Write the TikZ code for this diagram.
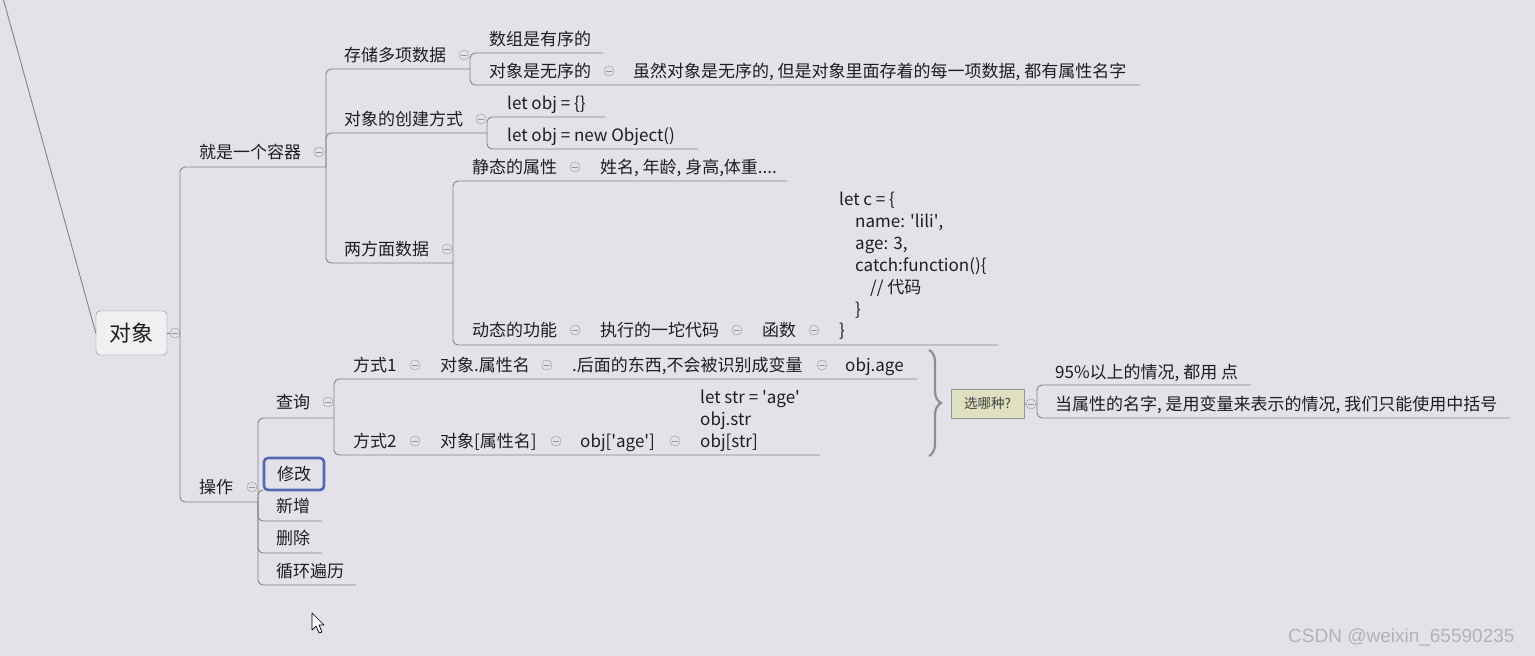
\documentclass[tikz,border=0pt]{standalone}
\usepackage{fontspec}
\setmainfont{Noto Sans CJK SC}
\newfontfamily\wmfont{Liberation Sans}
\usetikzlibrary{decorations.pathreplacing}

\definecolor{bgc}{RGB}{226,226,232}
\definecolor{txtc}{RGB}{30,30,32}
\definecolor{linec}{RGB}{130,130,134}
\definecolor{foldc}{RGB}{150,150,154}
\definecolor{rootfill}{RGB}{240,240,242}
\definecolor{pickfill}{RGB}{222,224,192}
\definecolor{hlc}{RGB}{88,102,182}
\definecolor{markc}{RGB}{178,178,184}
\newcommand{\apos}{\textquotesingle}

\begin{document}
\begin{tikzpicture}[
    x=1pt, y=-1pt,
    topic/.style={anchor=west, inner sep=0pt, text height=14pt, text depth=1.5pt,
      text=txtc, font=\fontsize{17}{20}\selectfont},
    fold/.style={circle, draw=foldc, inner sep=0pt, minimum size=10pt,
      path picture={\draw[foldc] ([xshift=-2.6pt]path picture bounding box.center)
        -- ([xshift=2.6pt]path picture bounding box.center);}},
    branch/.style={draw=linec, line width=0.9pt, rounded corners=5pt},
    rootbox/.style={draw=linec, fill=rootfill, rounded corners=4pt, inner sep=0pt,
      minimum width=71pt, minimum height=44pt, text=txtc, font=\fontsize{22}{26}\selectfont},
    pickbox/.style={draw=foldc, fill=pickfill, inner sep=0pt, minimum width=73pt,
      minimum height=29pt, text=txtc!85, font=\fontsize{13.5}{16}\selectfont},
    hlbox/.style={draw=hlc, line width=2.6pt, rounded corners=4pt, fill=bgc, inner sep=0pt,
      minimum width=60pt, minimum height=32pt, text=txtc, font=\fontsize{17}{20}\selectfont}
  ]
  \useasboundingbox[fill=bgc] (0,0) rectangle (1535,656);

  % junctions and underline ends
  \coordinate (diag-top) at (3,-2);
  \coordinate (root-u) at (180,333);
  \coordinate (cont-u) at (326,167);
  \coordinate (store-u) at (470,69);
  \coordinate (arr-u) at (603,53);
  \coordinate (objun-u) at (1140,85);
  \coordinate (create-u) at (487,133);
  \coordinate (lit-u) at (605,117);
  \coordinate (ctor-u) at (698,149);
  \coordinate (two-u) at (453,263);
  \coordinate (stat-u) at (787,181);
  \coordinate (dyn-u) at (998,345);
  \coordinate (op-u) at (258,502);
  \coordinate (q-u) at (334,418);
  \coordinate (w1-u) at (917,379);
  \coordinate (w2-u) at (820,455);
  \coordinate (add-u) at (322,521);
  \coordinate (del-u) at (322,553);
  \coordinate (loop-u) at (356,585);
  \coordinate (pick-u) at (1037,404);
  \coordinate (p1-u) at (1251,385);
  \coordinate (p2-u) at (1510,418);
  \coordinate (brace-t) at (929,350);
  \coordinate (brace-b) at (929,456);

  % root
  \node[rootbox] (root) at (131.5,333) {对象};
  \node[fold] (f-root) at (175,333) {};

  % 就是一个容器
  \node[topic] (cont) at (199,152) {就是一个容器};
  \node[fold] (f-cont) at (319,152) {};
  \node[topic] (store) at (344,55) {存储多项数据};
  \node[fold] (f-store) at (464,55) {};
  \node[topic] (arr) at (489,39) {数组是有序的};
  \node[topic] (objun) at (489,71) {对象是无序的};
  \node[fold] (f-objun) at (609,71) {};
  \node[topic] (objnote) at (633,71) {虽然对象是无序的, 但是对象里面存着的每一项数据, 都有属性名字};
  \node[topic] (create) at (344,119) {对象的创建方式};
  \node[fold] (f-create) at (481,119) {};
  \node[topic] (lit) at (507,103) {let obj = \{\}};
  \node[topic] (ctor) at (507,135) {let obj = new Object()};
  \node[topic] (two) at (344,249) {两方面数据};
  \node[fold] (f-two) at (447,249) {};
  \node[topic] (stat) at (472,167) {静态的属性};
  \node[fold] (f-stat) at (575,167) {};
  \node[topic] (statv) at (600,167) {姓名, 年龄, 身高,体重....};
  \node[topic] (dyn) at (472,330) {动态的功能};
  \node[fold] (f-dyn) at (575,330) {};
  \node[topic] (run) at (600,330) {执行的一坨代码};
  \node[fold] (f-run) at (737,330) {};
  \node[topic] (fn) at (762,330) {函数};
  \node[fold] (f-fn) at (814,330) {};
  \node[topic] (code1) at (839,199) {let c = \{};
  \node[topic] (code2) at (855,221) {name: \apos lili\apos,};
  \node[topic] (code3) at (855,243) {age: 3,};
  \node[topic] (code4) at (855,265) {catch:function()\{};
  \node[topic] (code5) at (870,287) {// 代码};
  \node[topic] (code6) at (855,309) {\}};
  \node[topic] (code7) at (839,330) {\}};

  % 操作
  \node[topic] (op) at (199,487) {操作};
  \node[fold] (f-op) at (252,487) {};
  \node[topic] (q) at (276,402) {查询};
  \node[fold] (f-q) at (328,402) {};
  \node[topic] (w1) at (353,365) {方式1};
  \node[fold] (f-w1) at (415,365) {};
  \node[topic] (w1a) at (440,365) {对象.属性名};
  \node[fold] (f-w1a) at (547,365) {};
  \node[topic] (w1b) at (572,365) {.后面的东西,不会被识别成变量};
  \node[fold] (f-w1b) at (822,365) {};
  \node[topic] (w1c) at (845,365) {obj.age};
  \node[topic] (w2) at (353,441) {方式2};
  \node[fold] (f-w2) at (415,441) {};
  \node[topic] (w2a) at (440,441) {对象[属性名]};
  \node[fold] (f-w2a) at (556,441) {};
  \node[topic] (w2b) at (580,441) {obj[\apos age\apos]};
  \node[fold] (f-w2b) at (675,441) {};
  \node[topic] (str1) at (700,397) {let str = \apos age\apos};
  \node[topic] (str2) at (700,419) {obj.str};
  \node[topic] (str3) at (700,441) {obj[str]};
  \node[topic] (add) at (276,506) {新增};
  \node[topic] (del) at (276,538) {删除};
  \node[topic] (loop) at (276,571) {循环遍历};

  % 选哪种?
  \node[pickbox] (pick) at (987.5,403.5) {选哪种?};
  \node[fold] (f-pick) at (1031,404) {};
  \node[topic] (p1) at (1055,372) {95\%以上的情况, 都用 点};
  \node[topic] (p2) at (1055,404) {当属性的名字, 是用变量来表示的情况, 我们只能使用中括号};

  % branches
  \draw[branch] (diag-top) -- (root.west);
  \draw[branch] (root) -- (f-root) -- (root-u);
  \draw[branch] (root-u) |- (cont-u);
  \draw[branch] (root-u) |- (op-u);
  \draw[branch] (cont-u) |- (store-u);
  \draw[branch] (cont-u) |- (create-u);
  \draw[branch] (cont-u) |- (two-u);
  \draw[branch] (store-u) |- (arr-u);
  \draw[branch] (store-u) |- (objun-u);
  \draw[branch] (create-u) |- (lit-u);
  \draw[branch] (create-u) |- (ctor-u);
  \draw[branch] (two-u) |- (stat-u);
  \draw[branch] (two-u) |- (dyn-u);
  \draw[branch] (op-u) |- (q-u);
  \draw[branch] (op-u) |- (add-u);
  \draw[branch] (op-u) |- (del-u);
  \draw[branch] (op-u) |- (loop-u);
  \draw[branch] (q-u) |- (w1-u);
  \draw[branch] (q-u) |- (w2-u);
  \draw[branch] (pick) -- (f-pick) -- (pick-u);
  \draw[branch] (pick-u) |- (p1-u);
  \draw[branch] (pick-u) |- (p2-u);
  \draw[draw=linec!90, line width=2.2pt, decorate,
    decoration={brace, amplitude=12pt}] (brace-t) -- (brace-b);

  % selected topic
  \draw[branch] (op-u) |- (263,490);
  \node[hlbox] (mod) at (294,474) {修改};

  % pointer and watermark
  \draw[fill=white, draw=black, line width=0.7pt, line join=round]
    (312,613) -- (312,630) -- (316,626) -- (319,633) -- (322,632)
    -- (319,625) -- (324,625) -- cycle;
  \node[anchor=west, inner sep=0pt, text=markc,
    font=\wmfont\fontsize{19}{22}\selectfont] (mark) at (1288,637) {CSDN @weixin\_65590235};
\end{tikzpicture}
\end{document}
